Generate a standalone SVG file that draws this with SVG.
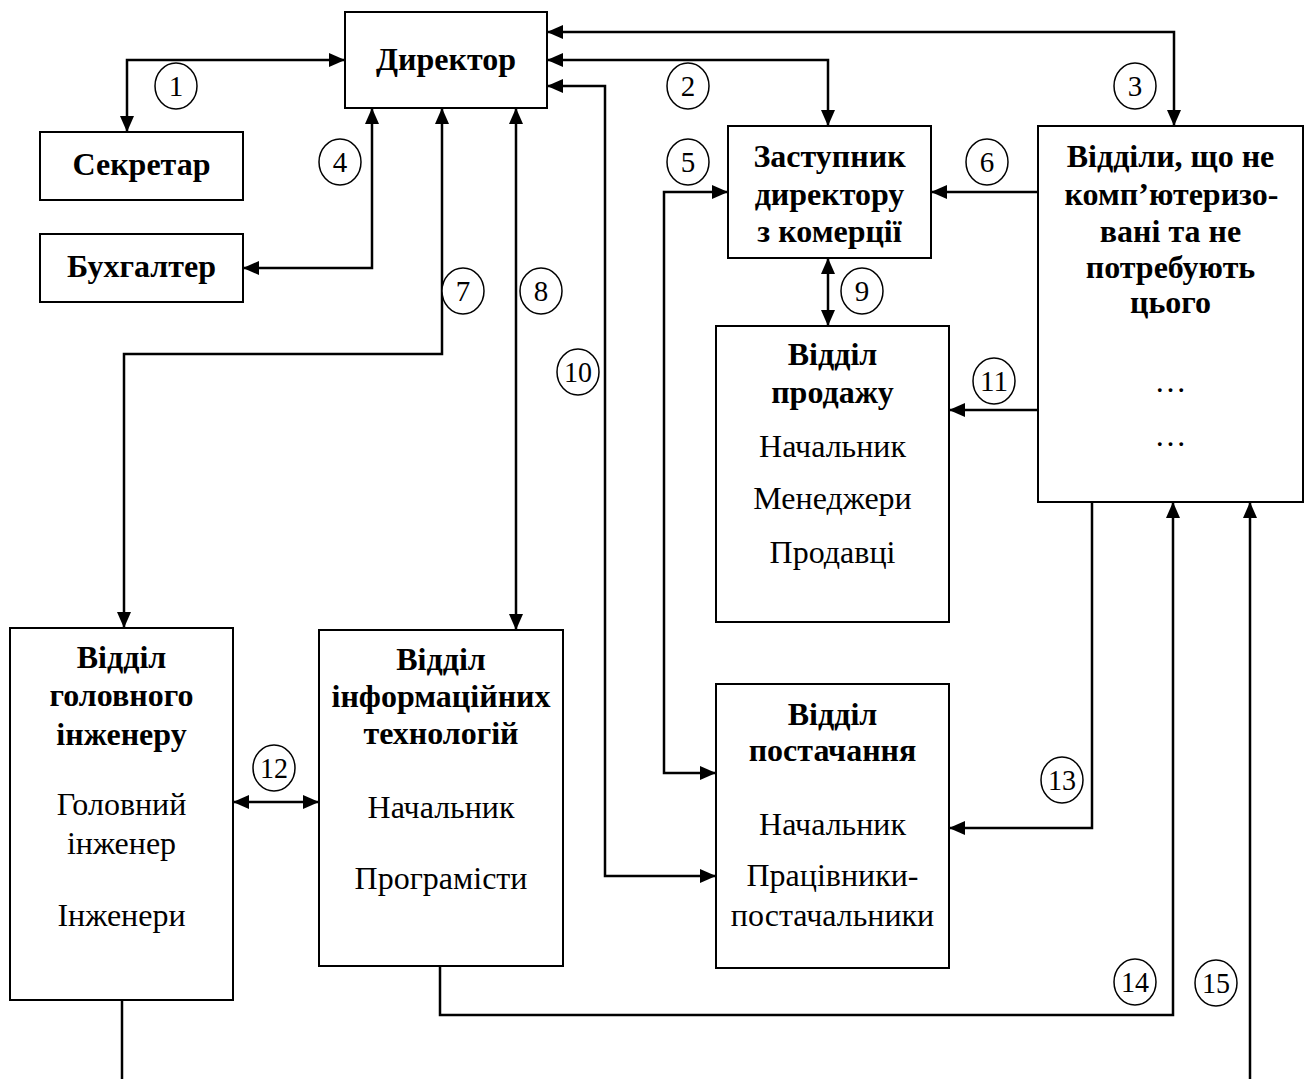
<svg xmlns="http://www.w3.org/2000/svg" width="1311" height="1079" viewBox="0 0 1311 1079">
<style>
.box{fill:#fff;stroke:#000;stroke-width:2}
.b{font-family:"Liberation Serif","Times New Roman",serif;font-weight:bold;font-size:32px;text-anchor:middle}
.r{font-family:"Liberation Serif","Times New Roman",serif;font-size:32px;text-anchor:middle}
.c{fill:#fff;stroke:#000;stroke-width:1.5}
.n{font-family:"Liberation Serif","Times New Roman",serif;font-size:29px;text-anchor:middle}
.ln{fill:none;stroke:#000;stroke-width:2.5}
</style>
<defs>
<marker id="a" viewBox="0 0 16 14" refX="16" refY="7" markerWidth="16" markerHeight="14" markerUnits="userSpaceOnUse" orient="auto-start-reverse">
<path d="M0,0 L16,7 L0,14 Z" fill="#000"/>
</marker>
</defs>
<rect width="1311" height="1079" fill="#fff"/>
<g id="connectors">
<path class="ln" d="M345,60 H127 V132" marker-start="url(#a)" marker-end="url(#a)"/>
<path class="ln" d="M547,60 H828 V126" marker-start="url(#a)" marker-end="url(#a)"/>
<path class="ln" d="M547,32 H1174 V126" marker-start="url(#a)" marker-end="url(#a)"/>
<path class="ln" d="M547,86 H605 V876 H716" marker-start="url(#a)" marker-end="url(#a)"/>
<path class="ln" d="M372,108 V268 H243" marker-start="url(#a)" marker-end="url(#a)"/>
<path class="ln" d="M442,108 V354 H124 V628" marker-start="url(#a)" marker-end="url(#a)"/>
<path class="ln" d="M516,108 V630" marker-start="url(#a)" marker-end="url(#a)"/>
<path class="ln" d="M728,192 H664 V773 H716" marker-start="url(#a)" marker-end="url(#a)"/>
<path class="ln" d="M1038,192 H931" marker-end="url(#a)"/>
<path class="ln" d="M828,258 V326" marker-start="url(#a)" marker-end="url(#a)"/>
<path class="ln" d="M1038,410 H949" marker-end="url(#a)"/>
<path class="ln" d="M1092,502 V828 H949" marker-end="url(#a)"/>
<path class="ln" d="M440,966 V1015 H1173 V502" marker-end="url(#a)"/>
<path class="ln" d="M1250,1079 V502" marker-end="url(#a)"/>
<path class="ln" d="M122,1000 V1079"/>
<path class="ln" d="M233,802 H319" marker-start="url(#a)" marker-end="url(#a)"/>
</g>
<g id="labels">
<ellipse class="c" cx="176" cy="86" rx="21" ry="23"/><text class="n" x="176" y="96">1</text>
<ellipse class="c" cx="688" cy="86" rx="21" ry="23"/><text class="n" x="688" y="96">2</text>
<ellipse class="c" cx="1135" cy="86" rx="21" ry="23"/><text class="n" x="1135" y="96">3</text>
<ellipse class="c" cx="340" cy="162" rx="21" ry="23"/><text class="n" x="340" y="172">4</text>
<ellipse class="c" cx="688" cy="162" rx="21" ry="23"/><text class="n" x="688" y="172">5</text>
<ellipse class="c" cx="987" cy="162" rx="21" ry="23"/><text class="n" x="987" y="172">6</text>
<ellipse class="c" cx="463" cy="291" rx="21" ry="23"/><text class="n" x="463" y="301">7</text>
<ellipse class="c" cx="541" cy="291" rx="21" ry="23"/><text class="n" x="541" y="301">8</text>
<ellipse class="c" cx="862" cy="291" rx="21" ry="23"/><text class="n" x="862" y="301">9</text>
<ellipse class="c" cx="578" cy="372" rx="21" ry="23"/><text class="n" x="578" y="382" textLength="28" lengthAdjust="spacingAndGlyphs">10</text>
<ellipse class="c" cx="994" cy="381" rx="21" ry="23"/><text class="n" x="994" y="391" textLength="28" lengthAdjust="spacingAndGlyphs">11</text>
<ellipse class="c" cx="274" cy="768" rx="21" ry="23"/><text class="n" x="274" y="778" textLength="28" lengthAdjust="spacingAndGlyphs">12</text>
<ellipse class="c" cx="1062" cy="780" rx="21" ry="23"/><text class="n" x="1062" y="790" textLength="28" lengthAdjust="spacingAndGlyphs">13</text>
<ellipse class="c" cx="1135" cy="982" rx="21" ry="23"/><text class="n" x="1135" y="992" textLength="28" lengthAdjust="spacingAndGlyphs">14</text>
<ellipse class="c" cx="1216" cy="983" rx="21" ry="23"/><text class="n" x="1216" y="993" textLength="28" lengthAdjust="spacingAndGlyphs">15</text>
</g>
<g id="director">
<rect class="box" x="345" y="12" width="202" height="96"/>
<text class="b" x="446" y="70">Директор</text>
</g>
<g id="secretary">
<rect class="box" x="40" y="132" width="203" height="68"/>
<text class="b" x="141.5" y="175">Секретар</text>
</g>
<g id="accountant">
<rect class="box" x="40" y="234" width="203" height="68"/>
<text class="b" x="141.5" y="277">Бухгалтер</text>
</g>
<g id="deputy">
<rect class="box" x="728" y="126" width="203" height="132"/>
<text class="b" x="829.5" y="167">Заступник</text>
<text class="b" x="829.5" y="205">директору</text>
<text class="b" x="829.5" y="242">з комерції</text>
</g>
<g id="noncomp">
<rect class="box" x="1038" y="126" width="265" height="376"/>
<text class="b" x="1170.5" y="167">Відділи, що не</text>
<text class="b" x="1171.5" y="205">комп’ютеризо-</text>
<text class="b" x="1170.5" y="242">вані та не</text>
<text class="b" x="1170.5" y="278">потребують</text>
<text class="b" x="1170.5" y="313">цього</text>
<text class="r" x="1170.5" y="392">…</text>
<text class="r" x="1170.5" y="446">…</text>
</g>
<g id="sales">
<rect class="box" x="716" y="326" width="233" height="296"/>
<text class="b" x="832.5" y="365">Відділ</text>
<text class="b" x="832.5" y="403">продажу</text>
<text class="r" x="832.5" y="457">Начальник</text>
<text class="r" x="832.5" y="509">Менеджери</text>
<text class="r" x="832.5" y="563">Продавці</text>
</g>
<g id="chief-engineer">
<rect class="box" x="10" y="628" width="223" height="372"/>
<text class="b" x="121.5" y="668">Відділ</text>
<text class="b" x="121.5" y="706">головного</text>
<text class="b" x="121.5" y="745">інженеру</text>
<text class="r" x="121.5" y="815">Головний</text>
<text class="r" x="121.5" y="854">інженер</text>
<text class="r" x="121.5" y="926">Інженери</text>
</g>
<g id="it">
<rect class="box" x="319" y="630" width="244" height="336"/>
<text class="b" x="441" y="670">Відділ</text>
<text class="b" x="441" y="707">інформаційних</text>
<text class="b" x="441" y="744">технологій</text>
<text class="r" x="441" y="818">Начальник</text>
<text class="r" x="441" y="889">Програмісти</text>
</g>
<g id="supply">
<rect class="box" x="716" y="684" width="233" height="284"/>
<text class="b" x="832.5" y="725">Відділ</text>
<text class="b" x="832.5" y="761">постачання</text>
<text class="r" x="832.5" y="835">Начальник</text>
<text class="r" x="832.5" y="886">Працівники-</text>
<text class="r" x="832.5" y="926">постачальники</text>
</g>
</svg>
